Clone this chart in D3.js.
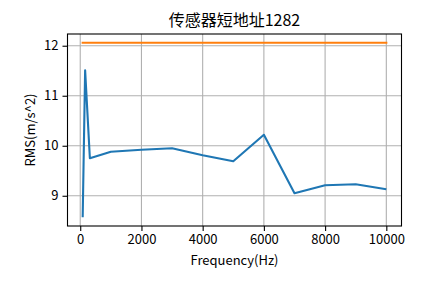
<!DOCTYPE html>
<html>
<head>
<meta charset="utf-8">
<script src="https://cdn.jsdelivr.net/npm/d3@7"></script>
<style>
  body { margin: 0; background: #fff; }
  text { font-family: "Noto Sans CJK SC", sans-serif; fill: #000; }
</style>
</head>
<body>
<div id="chart"></div>
<script>
// measured values (Hz, m/s^2)
const freqs = [80, 160, 315, 1000, 2000, 3000, 4000, 5000, 6000, 7000, 8000, 9000, 10000];
const rms = [8.57, 11.51, 9.75, 9.88, 9.92, 9.95, 9.81, 9.69, 10.22, 9.05, 9.21, 9.23, 9.13];
const limit = [12.06, 12.06];
const limitFreqs = [80, 10000];
const xTicks = [0, 2000, 4000, 6000, 8000, 10000];
const yTicks = [9, 10, 11, 12];

const width = 445, height = 283;
const margin = {top: 34, right: 43.5, bottom: 57, left: 67.5};

const svg = d3.select('#chart').append('svg')
    .attr('width', width)
    .attr('height', height);

// matplotlib style 5% padding
const xSpan = d3.max(freqs) - d3.min(freqs);
const yMin = d3.min(rms.concat(limit)), yMax = d3.max(rms.concat(limit));
const ySpan = yMax - yMin;

const x = d3.scaleLinear()
    .domain([d3.min(freqs) - xSpan * 0.05, d3.max(freqs) + xSpan * 0.05])
    .range([margin.left, width - margin.right]);
const y = d3.scaleLinear()
    .domain([yMin - ySpan * 0.05, yMax + ySpan * 0.05])
    .range([height - margin.bottom, margin.top]);

// grid
const grid = svg.append('g').attr('class', 'grid')
grid.selectAll('line.gx').data(xTicks).enter().append('line')
    .attr('x1', d => x(d)).attr('x2', d => x(d))
    .attr('y1', margin.top).attr('y2', height - margin.bottom)
    .style('stroke', '#b0b0b0').style('stroke-width', 1.1)
grid.selectAll('line.gy').data(yTicks).enter().append('line')
    .attr('y1', d => y(d)).attr('y2', d => y(d))
    .attr('x1', margin.left).attr('x2', width - margin.right)
    .style('stroke', '#b0b0b0').style('stroke-width', 1.1)

const line = d3.line().x(d => x(d[0])).y(d => y(d[1]));

svg.append('path')
    .datum(freqs.map((f, i) => [f, rms[i]]))
    .attr('d', line)
    .style('fill', 'none').style('stroke', '#1f77b4').style('stroke-width', 2.1)
    .style('stroke-linejoin', 'round')

svg.append('path')
    .datum(limitFreqs.map((f, i) => [f, limit[i]]))
    .attr('d', line)
    .style('fill', 'none').style('stroke', '#ff7f0e').style('stroke-width', 2.1)
    .style('stroke-linecap', 'square')

// axes
const xAxis = svg.append('g')
    .attr('transform', `translate(0,${height - margin.bottom})`)
    .call(d3.axisBottom(x).tickValues(xTicks).tickFormat(d3.format('d')).tickSize(5).tickPadding(4));
const yAxis = svg.append('g')
    .attr('transform', `translate(${margin.left},0)`)
    .call(d3.axisLeft(y).tickValues(yTicks).tickFormat(d3.format('d')).tickSize(5).tickPadding(4));

[xAxis, yAxis].forEach(a => {
    a.select('.domain').remove();
    a.selectAll('.tick line').style('stroke', '#000').style('stroke-width', 1.1);
    a.selectAll('.tick text').style('font-size', '13px').style('font-family', '"Noto Sans CJK SC", sans-serif');
});

// frame
svg.append('rect')
    .attr('x', margin.left).attr('y', margin.top)
    .attr('width', width - margin.left - margin.right)
    .attr('height', height - margin.top - margin.bottom)
    .style('fill', 'none').style('stroke', '#000').style('stroke-width', 1.1)

const cx = (margin.left + width - margin.right) / 2;

svg.append('text')
    .attr('x', cx).attr('y', 26)
    .attr('text-anchor', 'middle')
    .style('font-size', '16px')
    .text('传感器短地址1282')

svg.append('text')
    .attr('x', cx).attr('y', 265)
    .attr('text-anchor', 'middle')
    .style('font-size', '13px')
    .text('Frequency(Hz)')

svg.append('text')
    .attr('transform', `translate(35,${(margin.top + height - margin.bottom) / 2}) rotate(-90)`)
    .attr('text-anchor', 'middle')
    .style('font-size', '13px')
    .text('RMS(m/s^2)')
</script>
</body>
</html>
